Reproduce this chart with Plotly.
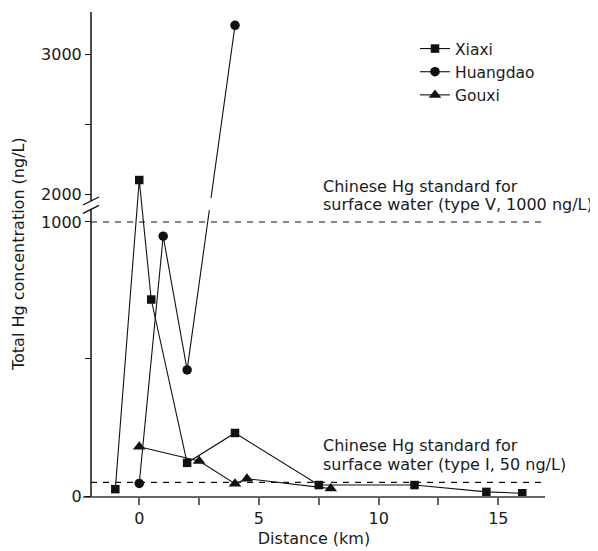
import plotly.graph_objects as go

# ---------------- data ----------------
xiaxi_km = [-1, 0, 0.5, 2, 4, 7.5, 11.5, 14.5, 16]
xiaxi_hg = [25, 2100, 717, 121, 230, 40, 40, 15, 10]

huangdao_km = [0, 1, 2, 4]
huangdao_hg = [46, 948, 460, 3205]

gouxi_km = [0, 2.5, 4, 4.5, 8]
gouxi_hg = [180, 128, 45, 63, 27]

y_tick_values = [0, 500, 1000, 2000, 2500, 3000]
y_tick_labels = ["0", "", "1000", "2000", "", "3000"]
x_tick_values = [0, 5, 10, 15]
x_tick_labels = ["0", "5", "10", "15"]

standard_type_v = 1000
standard_type_i = 50

# ---------------- broken y-axis mapping ----------------
BREAK_LOW, BREAK_HIGH = 1000, 2000
GAP = 102            # axis units used by the break
UPPER_SCALE = 0.511  # compression of the upper segment
Y_TOP = 3300


def to_axis(v):
    if v <= BREAK_LOW:
        return v
    return BREAK_LOW + GAP + (v - BREAK_HIGH) * UPPER_SCALE


def mapped(vals):
    return [to_axis(v) for v in vals]


FONT = "DejaVu Sans, Liberation Sans, Arial, sans-serif"
FS = 16
TXT = "#1a1a1a"
LINE = "#111111"

fig = go.Figure()

series = [
    ("Xiaxi", xiaxi_km, xiaxi_hg, "square", 8.5),
    ("Huangdao", huangdao_km, huangdao_hg, "circle", 9.5),
    ("Gouxi", gouxi_km, gouxi_hg, "triangle-up", 11),
]
for name, xs, ys, sym, size in series:
    fig.add_trace(go.Scatter(
        x=xs, y=mapped(ys), customdata=ys, name=name,
        mode="lines+markers",
        line=dict(color=LINE, width=1.1),
        marker=dict(symbol=sym, size=size, color=LINE),
        cliponaxis=False,
        hovertemplate="%{x} km: %{customdata} ng/L<extra>" + name + "</extra>",
    ))

PLOT_W, PLOT_H = 462, 484
YAX_POS = 8 / PLOT_W  # y-axis sits slightly right of the x-axis start

# standard lines (dashed)
for val in (standard_type_v, standard_type_i):
    fig.add_shape(type="line", xref="paper", yref="y",
                  x0=YAX_POS, x1=1, y0=to_axis(val), y1=to_axis(val),
                  line=dict(color=LINE, width=1.2, dash="6px,6px"))

# white gap in the Huangdao segment crossing the break
px = 0.274  # px per lower-axis unit
fig.add_shape(type="rect", xref="x", yref="y", x0=2.9, x1=3.6,
              y0=BREAK_LOW + 0.42 * GAP, y1=BREAK_LOW + 0.86 * GAP,
              line=dict(width=0), fillcolor="white", layer="above")

# y axis line drawn in two pieces with break marks
lo_mark = BREAK_LOW + 0.45 * GAP
hi_mark = BREAK_LOW + 0.75 * GAP
fig.add_shape(type="line", xref="paper", yref="y", x0=YAX_POS, x1=YAX_POS,
              y0=0, y1=lo_mark, line=dict(color=LINE, width=1.5))
fig.add_shape(type="line", xref="paper", yref="y", x0=YAX_POS, x1=YAX_POS,
              y0=hi_mark, y1=to_axis(Y_TOP), line=dict(color=LINE, width=1.5))
dx = 8 / PLOT_W
dy = 4 / px
for m in (lo_mark, hi_mark):
    fig.add_shape(type="line", xref="paper", yref="y",
                  x0=YAX_POS - dx, x1=YAX_POS + dx, y0=m - dy, y1=m + dy,
                  line=dict(color=LINE, width=1.3))

# annotations (positions in px relative to the plot-area origin at (83, 496))
ann_font = dict(family=FONT, size=FS, color=TXT)
label_lines = [
    ("Chinese Hg standard for", 186),
    ("surface water (type V, 1000 ng/L)", 205),
    ("Chinese Hg standard for", 445),
    ("surface water (type I, 50 ng/L)", 464),
]
for text, py in label_lines:
    fig.add_annotation(text=text, xref="paper", yref="paper",
                       x=(321 - 83) / PLOT_W, y=(496 - py) / PLOT_H,
                       xanchor="left", yanchor="middle", showarrow=False,
                       font=ann_font)

fig.add_annotation(text="Total Hg concentration (ng/L)", xref="paper", yref="paper",
                   x=(18 - 83) / PLOT_W, y=0.5, textangle=-90, showarrow=False,
                   xanchor="center", yanchor="middle", font=ann_font)

# the page body adds an 8px offset; figure is sized so the plot lands in place
fig.update_layout(
    width=590, height=543,
    margin=dict(l=75, r=53, t=4, b=55, autoexpand=False),
    paper_bgcolor="white", plot_bgcolor="white",
    font=dict(family=FONT, size=FS, color=TXT),
    showlegend=True,
    legend=dict(x=(415 - 83) / PLOT_W, y=(496 - 32) / PLOT_H, xanchor="left", yanchor="top",
                bgcolor="rgba(0,0,0,0)", borderwidth=0,
                font=dict(family=FONT, size=15.5, color=TXT),
                tracegroupgap=0),
    xaxis=dict(range=[-2.35, 16.95], showgrid=False, zeroline=False, automargin=False,
               showline=True, linecolor="#666666", linewidth=2,
               ticks="outside", ticklen=7, tickwidth=1.5, tickcolor="#666666",
               tickmode="array", tickvals=x_tick_values, ticktext=x_tick_labels,
               minor=dict(tickmode="linear", tick0=0, dtick=2.5, ticks="outside",
                          ticklen=7, tickwidth=1.5, tickcolor="#666666"),
               tickfont=dict(family=FONT, size=FS, color=TXT),
               title=dict(text="Distance (km)", standoff=6,
                          font=dict(family=FONT, size=FS, color=TXT))),
    yaxis=dict(range=[0, to_axis(Y_TOP)], showgrid=False, zeroline=False, automargin=False,
               showline=False, anchor="free", position=YAX_POS,
               ticks="outside", ticklen=6, tickwidth=1.3, tickcolor=LINE,
               tickmode="array", tickvals=mapped(y_tick_values), ticktext=y_tick_labels,
               tickfont=dict(family=FONT, size=FS, color=TXT)),
)

fig.write_html("out.html")
